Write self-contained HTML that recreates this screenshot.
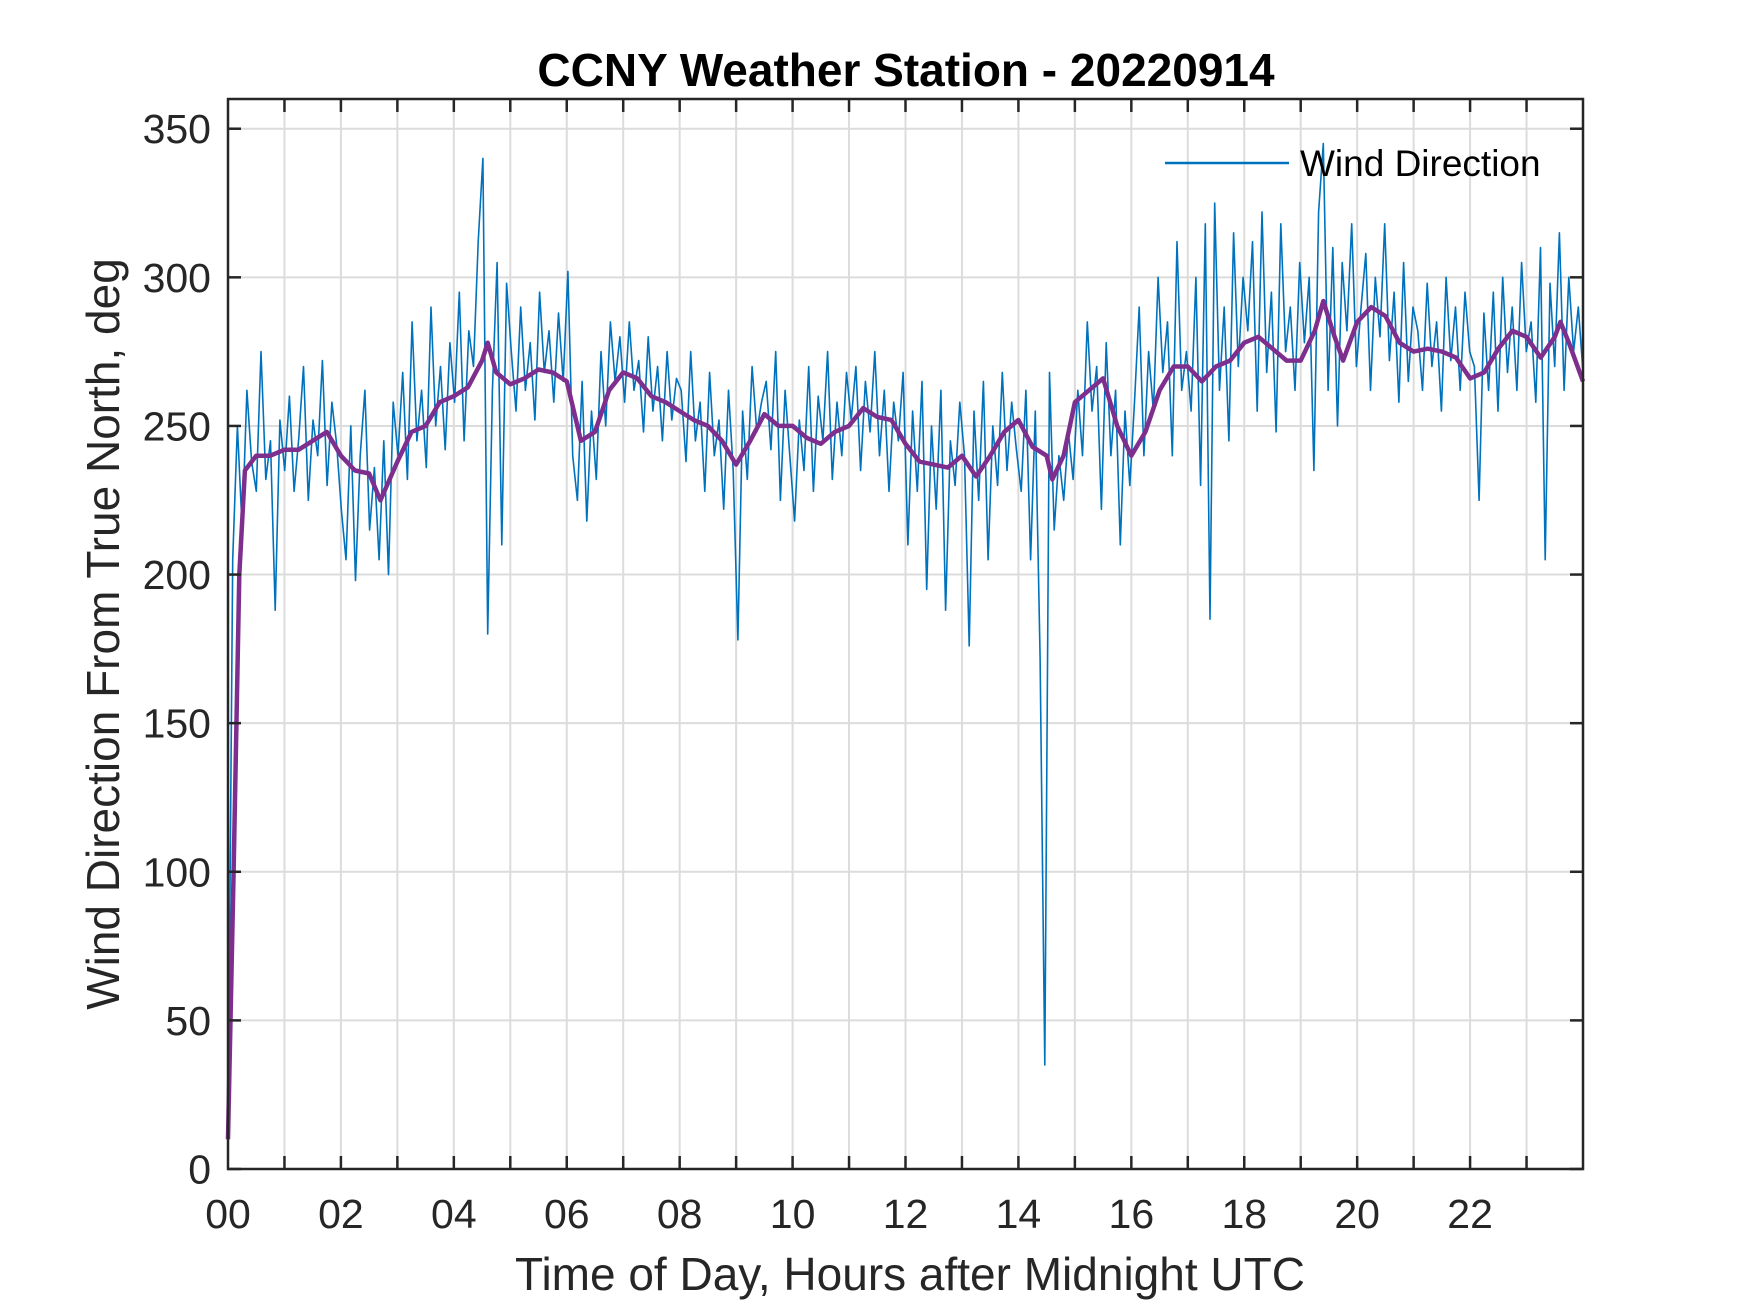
<!DOCTYPE html>
<html><head><meta charset="utf-8"><style>
html,body{margin:0;padding:0;background:#fff}
svg{display:block;font-family:"Liberation Sans",Arial,sans-serif}
</style></head><body>
<svg id="chart" width="1750" height="1313" viewBox="0 0 1750 1313">
<rect width="1750" height="1313" fill="#fff"/>
<g id="grid"></g>
<g id="series"></g>
<g id="axes"></g>
<text x="906" y="86" text-anchor="middle" font-size="46" font-weight="bold" fill="#000">CCNY Weather Station - 20220914</text>
<text x="910" y="1290" text-anchor="middle" font-size="46" fill="#262626">Time of Day, Hours after Midnight UTC</text>
<text transform="translate(119,634) rotate(-90)" text-anchor="middle" font-size="46" fill="#262626">Wind Direction From True North, deg</text>
<g>
<line x1="1165" y1="163" x2="1289" y2="163" stroke="#0072BD" stroke-width="2.5"/>
<text x="1300" y="176" font-size="37" fill="#000">Wind Direction</text>
</g>
</svg>
<script>
const rawDir = [
10,205,250,215,262,238,228,275,232,245,188,252,
235,260,228,246,270,225,252,240,272,230,258,244,
222,205,250,198,240,262,215,236,205,245,200,258,
240,268,232,285,245,262,236,290,250,270,242,278,
258,295,245,282,270,312,340,180,262,305,210,298,
275,255,290,262,278,252,295,268,282,258,288,265,
302,240,225,265,218,255,232,275,250,285,265,280,
258,285,262,272,248,280,255,270,245,275,252,266,
262,238,275,245,258,228,268,240,252,222,262,235,
178,255,232,270,248,258,265,242,275,225,262,240,
218,252,235,270,228,260,245,275,232,258,240,268,
252,270,235,265,248,275,240,262,228,258,245,268,
210,255,228,265,195,250,222,262,188,245,230,258,
240,176,255,225,265,205,250,230,268,235,258,242,
228,262,205,255,172,35,268,215,240,225,248,232,
262,240,285,255,270,222,278,240,262,210,255,230,
258,290,240,275,255,300,268,285,240,312,262,275,
255,300,230,318,185,325,262,290,245,315,270,300,
282,312,255,322,268,295,248,318,275,290,262,305,
278,300,235,322,345,262,310,250,305,282,318,270,
290,308,262,300,280,318,272,295,258,305,265,290,
282,262,298,270,285,255,300,272,290,262,295,275,
270,225,288,262,295,255,300,268,290,262,305,275,
285,258,310,205,298,270,315,262,300,275,290,268];
const avgHours = [0,0.1,0.2,0.3,0.5,0.75,1,1.25,1.5,1.75,2,2.25,2.5,2.7,3,3.25,3.5,3.75,4,4.25,4.5,4.6,4.75,5,5.25,5.5,5.75,6,6.25,6.5,6.75,7,7.25,7.5,7.75,8,8.25,8.5,8.75,9,9.25,9.5,9.75,10,10.25,10.5,10.75,11,11.25,11.5,11.75,12,12.25,12.5,12.75,13,13.25,13.5,13.75,14,14.25,14.5,14.6,14.8,15,15.25,15.5,15.75,16,16.25,16.5,16.75,17,17.25,17.5,17.75,18,18.25,18.5,18.75,19,19.25,19.4,19.6,19.75,20,20.25,20.5,20.75,21,21.25,21.5,21.75,22,22.25,22.5,22.75,23,23.25,23.5,23.6,23.75,24];
const avgDir = [10,100,200,235,240,240,242,242,245,248,240,235,234,225,238,248,250,258,260,263,272,278,268,264,266,269,268,265,245,248,262,268,266,260,258,255,252,250,245,237,245,254,250,250,246,244,248,250,256,253,252,244,238,237,236,240,233,240,248,252,243,240,232,240,258,262,266,250,240,248,262,270,270,265,270,272,278,280,276,272,272,282,292,280,272,285,290,287,278,275,276,275,273,266,268,276,282,280,273,280,285,278,265];
const yTicks = [0,50,100,150,200,250,300,350];
const xTickLabels = ["00","02","04","06","08","10","12","14","16","18","20","22"];

const L=228,R=1583,T=99,B=1169;
const xs=h=>L+(h/24)*(R-L);
const ys=v=>B-(v/360)*(B-T);
const NS="http://www.w3.org/2000/svg";
function mk(tag,attrs,parent){const e=document.createElementNS(NS,tag);for(const k in attrs)e.setAttribute(k,attrs[k]);parent.appendChild(e);return e;}
const grid=document.getElementById('grid'),series=document.getElementById('series'),axes=document.getElementById('axes');

for(let h=1;h<24;h++){
  const g=mk('line',{x1:xs(h),x2:xs(h),y1:T,y2:B,stroke:'#dcdcdc','stroke-width':2},grid);
  
  
}
yTicks.forEach(v=>{
  if(v===0)return;
  const g=mk('line',{x1:L,x2:R,y1:ys(v),y2:ys(v),stroke:'#dcdcdc','stroke-width':2},grid);
  
  
});

const n=rawDir.length;
const rawPts=rawDir.map((v,i)=>xs(i*24/(n-1)).toFixed(1)+','+ys(v).toFixed(1)).join(' ');
const raw=mk('polyline',{points:rawPts,fill:'none',stroke:'#0072BD','stroke-width':1.6,'stroke-linejoin':'round'},series);



const avgPts=avgDir.map((v,i)=>xs(avgHours[i]).toFixed(1)+','+ys(v).toFixed(1)).join(' ');
const avg=mk('polyline',{points:avgPts,fill:'none',stroke:'#7E2F8E','stroke-width':4.5,'stroke-linejoin':'round'},series);



const box=mk('rect',{x:L,y:T,width:R-L,height:B-T,fill:'none',stroke:'#262626','stroke-width':2.5},axes);



for(let h=1;h<24;h++){
  mk('line',{x1:xs(h),x2:xs(h),y1:B,y2:B-13,stroke:'#262626','stroke-width':2.5},axes);
  mk('line',{x1:xs(h),x2:xs(h),y1:T,y2:T+13,stroke:'#262626','stroke-width':2.5},axes);
}
xTickLabels.forEach((lab,i)=>{
  const t=mk('text',{x:xs(i*2),y:1228,'text-anchor':'middle','font-size':41,fill:'#262626'},axes);
  t.textContent=lab;
  
  
});
yTicks.forEach(v=>{
  mk('line',{x1:L,x2:L+13,y1:ys(v),y2:ys(v),stroke:'#262626','stroke-width':2.5},axes);
  mk('line',{x1:R,x2:R-13,y1:ys(v),y2:ys(v),stroke:'#262626','stroke-width':2.5},axes);
  const t=mk('text',{x:211,y:ys(v)+14.5,'text-anchor':'end','font-size':41,fill:'#262626'},axes);
  t.textContent=v;
  
  
});
</script>
</body></html>
